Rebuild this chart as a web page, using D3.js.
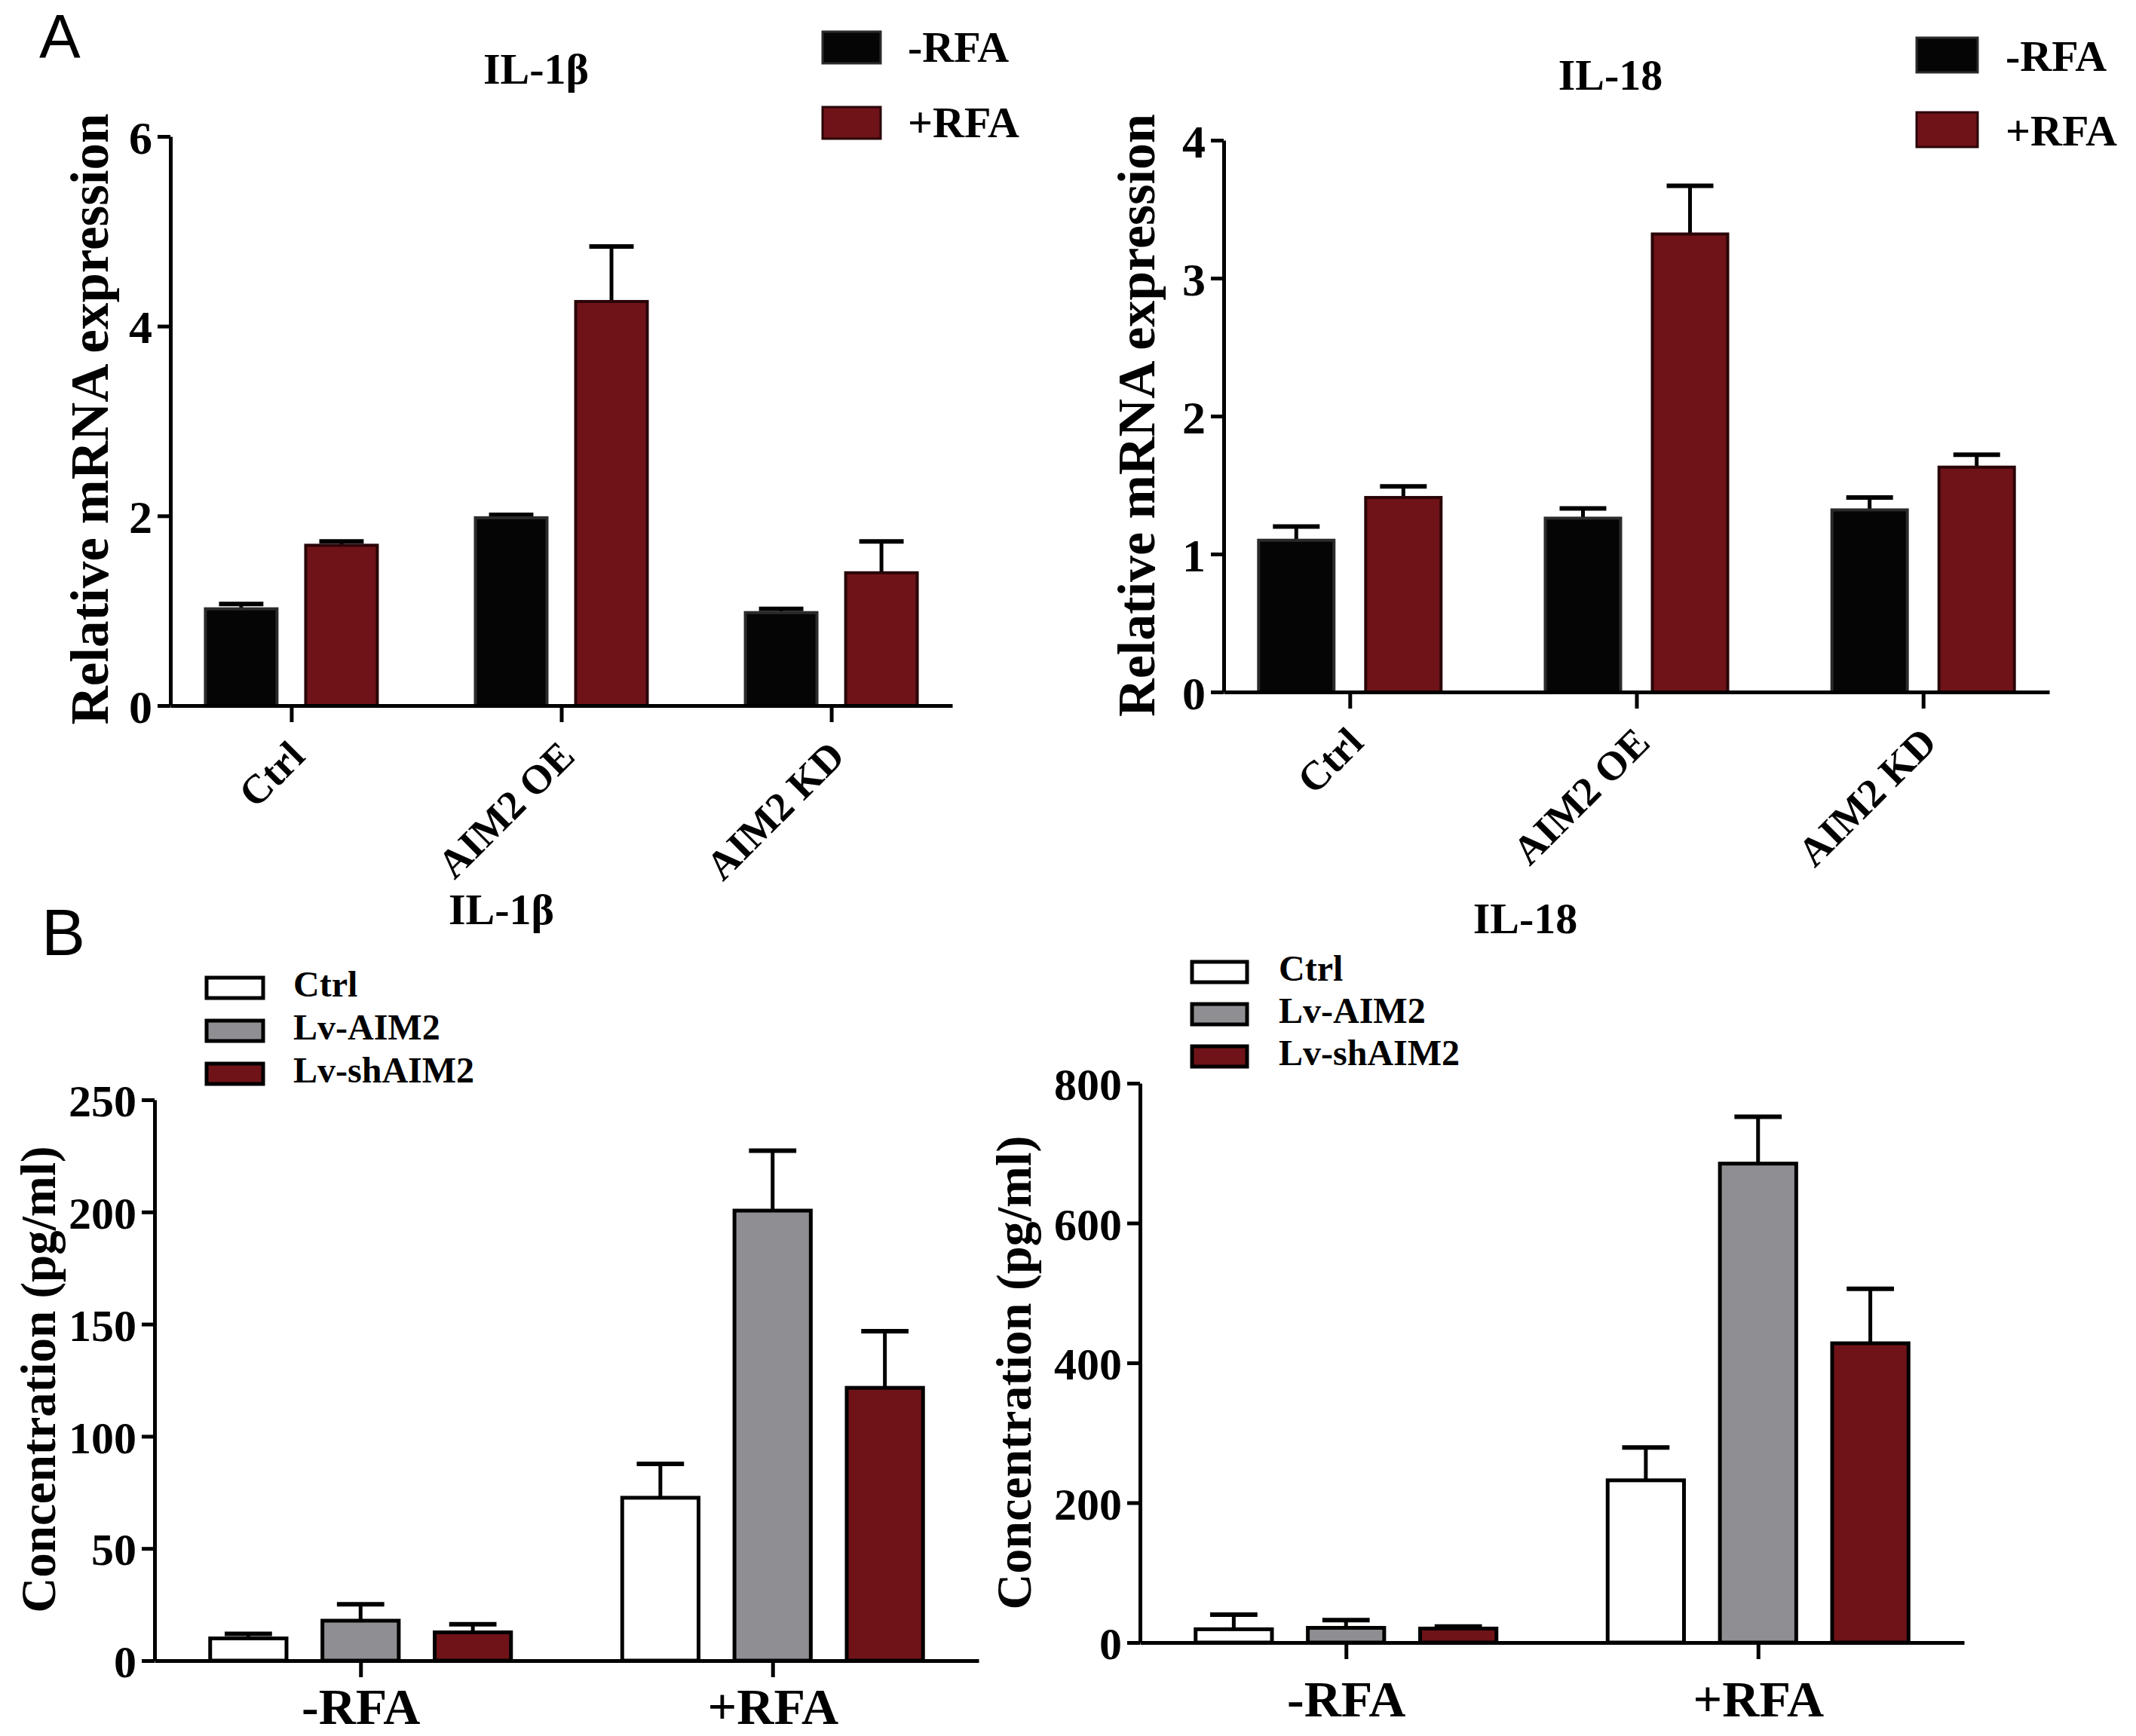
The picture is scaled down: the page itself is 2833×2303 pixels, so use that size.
<!DOCTYPE html>
<html>
<head>
<meta charset="utf-8">
<script src="https://cdn.jsdelivr.net/npm/d3@7"></script>
<style>
  body { margin: 0; background: #fff; }
  svg text { font-family: "Liberation Serif", "Times New Roman", serif; font-weight: bold; fill: #000; }
  svg text.panel-letter { font-family: "Liberation Sans", Arial, sans-serif; font-weight: normal; }
</style>
</head>
<body>
<div id="chart"></div>
<script>
// ---- data ----
const mrnaGroups = ["Ctrl", "AIM2 OE", "AIM2 KD"];
const rfaSeries = ["-RFA", "+RFA"];

const il1bMinus = [1.02, 1.98, 0.98];
const il1bMinusErr = [0.05, 0.03, 0.04];
const il1bPlus = [1.69, 4.26, 1.40];
const il1bPlusErr = [0.04, 0.58, 0.33];

const il18Minus = [1.10, 1.26, 1.32];
const il18MinusErr = [0.10, 0.07, 0.09];
const il18Plus = [1.41, 3.32, 1.63];
const il18PlusErr = [0.08, 0.35, 0.09];

const elisaGroups = ["-RFA", "+RFA"];
const lvSeries = ["Ctrl", "Lv-AIM2", "Lv-shAIM2"];

const il1bCtrl = [9.9, 72.6];
const il1bCtrlErr = [2.0, 15.1];
const il1bLvAim2 = [17.8, 200.6];
const il1bLvAim2Err = [7.3, 26.7];
const il1bLvSh = [12.6, 121.6];
const il1bLvShErr = [3.6, 25.2];

const il18Ctrl = [19, 232];
const il18CtrlErr = [21, 47];
const il18LvAim2 = [21, 685];
const il18LvAim2Err = [11, 67];
const il18LvSh = [20, 428];
const il18LvShErr = [3, 78];

const ticksIl1bMrna = [0, 2, 4, 6];
const ticksIl18Mrna = [0, 1, 2, 3, 4];
const ticksIl1bConc = [0, 50, 100, 150, 200, 250];
const ticksIl18Conc = [0, 200, 400, 600, 800];

// ---- styles ----
const RED = "#6f1318";
const GRAY = "#8f8f93";
const fillA = { "-RFA": "#050505", "+RFA": RED };
const strokeA = { "-RFA": "#2b2b2b", "+RFA": "#2a0508" };
const fillB = { "Ctrl": "#ffffff", "Lv-AIM2": GRAY, "Lv-shAIM2": RED };

const svg = d3.select("#chart").append("svg")
    .attr("width", 2833)
    .attr("height", 2303);

svg.append("rect").attr("width", 2833).attr("height", 2303).attr("fill", "#fff");

function buildRows(groups, series, values, errs) {
  // values[s][g]
  const rows = [];
  groups.forEach((g, gi) => {
    series.forEach((s, si) => {
      rows.push({ group: g, series: s, value: values[si][gi], err: errs[si][gi] });
    });
  });
  return rows;
}

function drawPanel(cfg) {
  const g = svg.append("g");

  const x = d3.scalePoint()
      .domain(cfg.groups)
      .range(cfg.xRange)
      .padding(cfg.xPadding);

  const sub = d3.scaleBand()
      .domain(cfg.series)
      .range([-cfg.groupWidth / 2, cfg.groupWidth / 2])
      .paddingInner(cfg.innerPad);

  const y = d3.scaleLinear()
      .domain(cfg.yDomain)
      .range(cfg.yRange);

  const rows = buildRows(cfg.groups, cfg.series, cfg.values, cfg.errs);
  const bw = sub.bandwidth();
  const capW = bw * 0.62;

  // error bars (upper only)
  const eb = g.append("g").attr("class", "errorbars");
  eb.selectAll("line.v")
    .data(rows)
    .join("line")
      .attr("class", "v")
      .attr("x1", d => x(d.group) + sub(d.series) + bw / 2)
      .attr("x2", d => x(d.group) + sub(d.series) + bw / 2)
      .attr("y1", d => y(d.value))
      .attr("y2", d => y(d.value + d.err))
      .attr("stroke", "#000")
      .attr("stroke-width", 5);
  eb.selectAll("line.cap")
    .data(rows)
    .join("line")
      .attr("class", "cap")
      .attr("x1", d => x(d.group) + sub(d.series) + bw / 2 - capW / 2)
      .attr("x2", d => x(d.group) + sub(d.series) + bw / 2 + capW / 2)
      .attr("y1", d => y(d.value + d.err))
      .attr("y2", d => y(d.value + d.err))
      .attr("stroke", "#000")
      .attr("stroke-width", 6);

  // bars
  g.append("g").selectAll("rect")
    .data(rows)
    .join("rect")
      .attr("x", d => x(d.group) + sub(d.series))
      .attr("y", d => y(d.value))
      .attr("width", bw)
      .attr("height", d => y(0) - y(d.value))
      .attr("fill", d => cfg.fill[d.series])
      .attr("stroke", d => cfg.stroke ? cfg.stroke[d.series] : "#000")
      .attr("stroke-width", cfg.barStroke);

  // y axis
  const yAxis = g.append("g")
      .attr("transform", `translate(${cfg.xRange[0]},0)`)
      .call(d3.axisLeft(y)
        .tickValues(cfg.yTicks)
        .tickFormat(d3.format("d"))
        .tickSize(17).tickSizeOuter(0).tickPadding(7));
  yAxis.select(".domain").attr("stroke", "#000").attr("stroke-width", 5);
  yAxis.selectAll(".tick line").attr("stroke", "#000").attr("stroke-width", 5);
  yAxis.selectAll(".tick text")
      .style("font-size", cfg.yTickFont + "px")
      .attr("dy", "0.36em");

  // x axis
  const xAxis = g.append("g")
      .attr("transform", `translate(0,${y(0)})`)
      .call(d3.axisBottom(x).tickSize(22).tickSizeOuter(0).tickPadding(10));
  xAxis.select(".domain").attr("stroke", "#000").attr("stroke-width", 5);
  xAxis.selectAll(".tick line").attr("stroke", "#000").attr("stroke-width", 5);
  const xt = xAxis.selectAll(".tick text").style("font-size", cfg.xTickFont + "px");
  if (cfg.rotateX) {
    xt.attr("text-anchor", "end")
      .attr("dy", null)
      .attr("y", null)
      .attr("transform", "translate(20,70) rotate(-45)");
  } else {
    xt.attr("dy", null).attr("y", cfg.xLabelY);
  }

  // y label
  g.append("text")
      .attr("transform", `translate(${cfg.yLabelX},${cfg.yLabelY}) rotate(-90)`)
      .attr("text-anchor", "middle")
      .attr("dy", "0.35em")
      .style("font-size", cfg.yLabelFont + "px")
      .text(cfg.yLabel);

  // title
  g.append("text")
      .attr("x", cfg.titleX)
      .attr("y", cfg.titleY)
      .attr("text-anchor", "middle")
      .style("font-size", "58px")
      .text(cfg.title);

  // legend
  const lg = g.append("g");
  cfg.series.forEach((s, i) => {
    const ly = cfg.legend.y0 + i * cfg.legend.step;
    lg.append("rect")
      .attr("x", cfg.legend.x)
      .attr("y", ly)
      .attr("width", cfg.legend.w)
      .attr("height", cfg.legend.h)
      .attr("fill", cfg.fill[s])
      .attr("stroke", cfg.stroke ? cfg.stroke[s] : "#000")
      .attr("stroke-width", cfg.legend.sw);
    lg.append("text")
      .attr("x", cfg.legend.tx)
      .attr("y", ly + cfg.legend.h - 2)
      .style("font-size", cfg.legend.font + "px")
      .text(s);
  });
}

// Panel A, IL-1β mRNA
drawPanel({
  groups: mrnaGroups, series: rfaSeries,
  values: [il1bMinus, il1bPlus], errs: [il1bMinusErr, il1bPlusErr],
  xRange: [226, 1263], xPadding: 0.448, groupWidth: 228, innerPad: 0.286,
  yDomain: [0, 6], yRange: [936, 181], yTicks: ticksIl1bMrna,
  fill: fillA, stroke: strokeA, barStroke: 4,
  yTickFont: 62, xTickFont: 54, rotateX: true,
  yLabel: "Relative mRNA expression", yLabelX: 118, yLabelY: 556, yLabelFont: 71,
  title: "IL-1β", titleX: 711, titleY: 111,
  legend: { x: 1091, y0: 42, step: 100, w: 77, h: 42, sw: 3, tx: 1204, font: 58 }
});

// Panel A, IL-18 mRNA
drawPanel({
  groups: mrnaGroups, series: rfaSeries,
  values: [il18Minus, il18Plus], errs: [il18MinusErr, il18PlusErr],
  xRange: [1623, 2718], xPadding: 0.44, groupWidth: 242, innerPad: 0.296,
  yDomain: [0, 4], yRange: [918, 186], yTicks: ticksIl18Mrna,
  fill: fillA, stroke: strokeA, barStroke: 4,
  yTickFont: 62, xTickFont: 54, rotateX: true,
  yLabel: "Relative mRNA expression", yLabelX: 1506, yLabelY: 551, yLabelFont: 70,
  title: "IL-18", titleX: 2136, titleY: 119,
  legend: { x: 2542, y0: 50, step: 99, w: 81, h: 46, sw: 3, tx: 2660, font: 58 }
});

// Panel B, IL-1β ELISA
drawPanel({
  groups: elisaGroups, series: lvSeries,
  values: [il1bCtrl, il1bLvAim2, il1bLvSh], errs: [il1bCtrlErr, il1bLvAim2Err, il1bLvShErr],
  xRange: [205, 1298], xPadding: 0.5, groupWidth: 399, innerPad: 0.32,
  yDomain: [0, 250], yRange: [2203, 1459], yTicks: ticksIl1bConc,
  fill: fillB, stroke: null, barStroke: 5,
  yTickFont: 60, xTickFont: 68, rotateX: false, xLabelY: 84,
  yLabel: "Concentration (pg/ml)", yLabelX: 50, yLabelY: 1830, yLabelFont: 65,
  title: "IL-1β", titleX: 665, titleY: 1226,
  legend: { x: 274, y0: 1297, step: 57, w: 75, h: 27, sw: 5, tx: 389, font: 48 }
});

// Panel B, IL-18 ELISA
drawPanel({
  groups: elisaGroups, series: lvSeries,
  values: [il18Ctrl, il18LvAim2, il18LvSh], errs: [il18CtrlErr, il18LvAim2Err, il18LvShErr],
  xRange: [1512, 2605], xPadding: 0.5, groupWidth: 399, innerPad: 0.32,
  yDomain: [0, 800], yRange: [2179, 1437], yTicks: ticksIl18Conc,
  fill: fillB, stroke: null, barStroke: 5,
  yTickFont: 60, xTickFont: 68, rotateX: false, xLabelY: 98,
  yLabel: "Concentration (pg/ml)", yLabelX: 1344, yLabelY: 1821, yLabelFont: 66,
  title: "IL-18", titleX: 2023, titleY: 1238,
  legend: { x: 1581, y0: 1276, step: 56, w: 73, h: 27, sw: 5, tx: 1696, font: 48 }
});

// panel letters
svg.append("text").attr("class", "panel-letter")
    .attr("x", 52).attr("y", 76).style("font-size", "82px").text("A");
svg.append("text").attr("class", "panel-letter")
    .attr("x", 55).attr("y", 1267).style("font-size", "87px").text("B");
</script>
</body>
</html>
